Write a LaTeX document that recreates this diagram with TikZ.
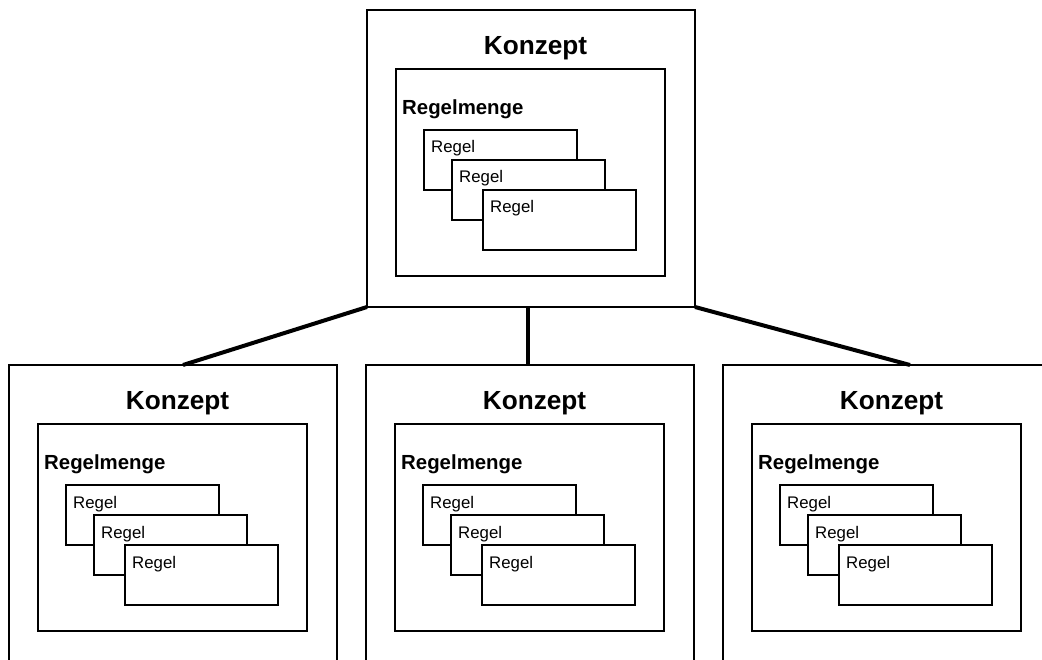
\documentclass[tikz,border=0pt]{standalone}
\usepackage{fontspec}
\setmainfont{Liberation Sans}
\usetikzlibrary{calc}

\tikzset{
  box/.style={draw, rectangle, fill=white, inner sep=0pt, outer sep=0pt,
              anchor=north west},
  conceptbox/.style={box, line width=1.7pt, minimum width=328pt, minimum height=297pt},
  rulesetbox/.style={box, line width=2pt, minimum width=269pt, minimum height=207pt},
  rulebox/.style={box, line width=2pt, minimum width=153pt, minimum height=60pt},
  conceptlabel/.style={anchor=base, inner sep=0pt,
              font=\fontsize{26.2}{30}\selectfont\bfseries},
  rulesetlabel/.style={anchor=base west, inner sep=0pt,
              font=\fontsize{20.4}{24}\selectfont\bfseries},
  rulelabel/.style={anchor=base west, inner sep=0pt,
              font=\fontsize{16.8}{20}\selectfont},
  link/.style={draw, line width=4pt}
}

% one concept: outer frame, rule set and three stacked rules
\newcommand\conceptgroup{%
  \node[conceptbox] (outer) at (0,0) {};
  \node[conceptlabel] (title) at (168.5,44.3) {Konzept};
  \node[rulesetbox] (set) at (29,59) {};
  \node[rulesetlabel] (settitle) at (35,104.3) {Regelmenge};
  \node[rulebox] (r1) at (57,120) {};
  \node[rulelabel] (t1) at ($(r1.north west)+(7,23)$) {Regel};
  \node[rulebox] (r2) at (85,150) {};
  \node[rulelabel] (t2) at ($(r2.north west)+(7,23)$) {Regel};
  \node[rulebox] (r3) at (116,180) {};
  \node[rulelabel] (t3) at ($(r3.north west)+(7,23)$) {Regel};
}

\begin{document}
\begin{tikzpicture}[x=1pt, y=-1pt]
  \useasboundingbox (0,0) rectangle (1042,660);
  \clip (0,0) rectangle (1042,660);

  \begin{scope}[shift={(367,10)}, name prefix=T-]
    \conceptgroup
  \end{scope}
  \begin{scope}[shift={(9,365)}, name prefix=L-]
    \conceptgroup
    \coordinate (top) at (174,0);
  \end{scope}
  \begin{scope}[shift={(366,365)}, name prefix=M-]
    \conceptgroup
    \coordinate (top) at (162,0);
  \end{scope}
  \begin{scope}[shift={(723,365)}, name prefix=R-]
    \conceptgroup
    \coordinate (top) at (187,0);
  \end{scope}

  % links from the upper concept to the three lower ones
  \draw[link] (T-outer.south west) -- (L-top);
  \draw[link] (M-top |- T-outer.south) -- (M-top);
  \draw[link] (T-outer.south east) -- (R-top);
\end{tikzpicture}
\end{document}
